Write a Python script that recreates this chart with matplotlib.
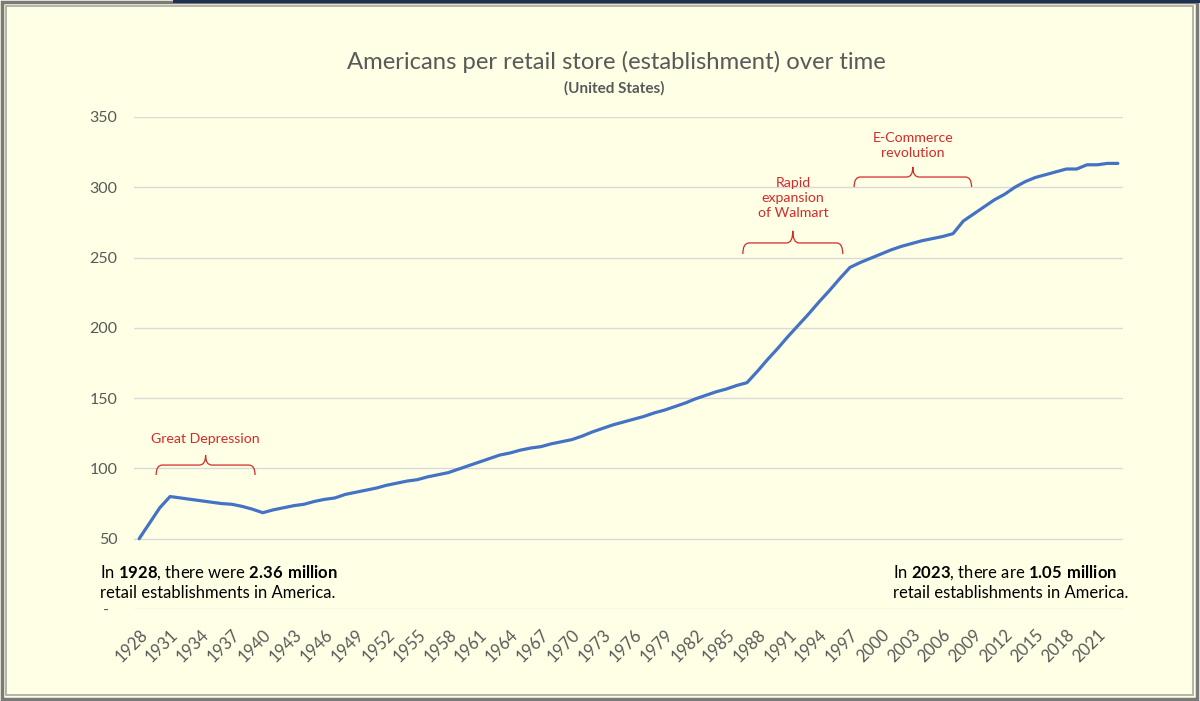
import matplotlib
matplotlib.use("Agg")
import matplotlib.pyplot as plt
from matplotlib.path import Path
from matplotlib.patches import PathPatch, Rectangle
import numpy as np

plt.rcParams['font.family'] = ['Lato', 'DejaVu Sans']
plt.rcParams['mathtext.fontset'] = 'custom'
plt.rcParams['mathtext.rm'] = 'Lato'
plt.rcParams['mathtext.bf'] = 'Lato:bold'

# data
years = list(range(1928, 2024))
people_per_store = [
    50, 61, 72, 80, 79, 78, 77, 76, 75, 74.5,          # 1928-1937
    73, 71, 68.5, 70.5, 72, 73.5, 74.5, 76.5, 78, 79,  # 1938-1947
    81.5, 83, 84.5, 86, 88, 89.5, 91, 92, 94, 95.5,    # 1948-1957
    97, 99.5, 102, 104.5, 107, 109.5, 111, 113, 114.5, 115.5,  # 1958-1967
    117.5, 119, 120.5, 123, 126, 128.5, 131, 133, 135, 137,    # 1968-1977
    139.5, 141.5, 144, 146.5, 149.5, 152, 154.5, 156.5, 159, 161,  # 1978-1987
    169, 177.5, 185.5, 194, 202, 210, 218.5, 226.5, 235, 243,  # 1988-1997
    246.5, 249.5, 252.5, 255.5, 258, 260, 262, 263.5, 265, 267,  # 1998-2007
    276, 281, 286, 291, 295, 300, 304, 307, 309, 311,  # 2008-2017
    313, 313, 316, 316, 317, 317,                      # 2018-2023
]
tick_years = list(range(1928, 2022, 3))
y_ticks = [0, 50, 100, 150, 200, 250, 300, 350]
y_labels = ['-  ', '50', '100', '150', '200', '250', '300', '350']

BG = '#FFFFE6'
GRAY = '#595959'
RED = '#D42A2A'

fig = plt.figure(figsize=(12, 7.01), dpi=100, facecolor=BG)
ax = fig.add_axes([134 / 1200, 1 - 609 / 701, (1123 - 134) / 1200, (609 - 117) / 701])
ax.set_facecolor(BG)

x = np.arange(len(years))
ax.plot(x, people_per_store, color='#4472C4', lw=2.3, solid_capstyle='round', zorder=3)

ax.set_xlim(-0.5, len(years) - 0.5)
ax.set_ylim(0, 350)
ax.set_yticks(y_ticks)
ax.set_yticklabels(y_labels)
ax.set_xticks([years.index(t) for t in tick_years])
ax.set_xticklabels([str(t) for t in tick_years], rotation=45, ha='right',
                   va='top', rotation_mode='anchor')
ax.tick_params(axis='both', length=0, colors=GRAY)
ax.tick_params(axis='y', pad=12, labelsize=11.5)
ax.tick_params(axis='x', pad=13, labelsize=12)
ax.grid(axis='y', color='#D9D9D9', lw=1)
ax.set_axisbelow(True)
for s in ax.spines.values():
    s.set_visible(False)


def brace(x0, x1, yb, yh, yt, d=0.6):
    xm = (x0 + x1) / 2
    verts = [(x0, yb), (x0, yh), (x0 + d, yh),
             (xm - d, yh), (xm, yh), (xm, yt),
             (xm, yh), (xm + d, yh),
             (x1 - d, yh), (x1, yh), (x1, yb)]
    codes = [Path.MOVETO, Path.CURVE3, Path.CURVE3,
             Path.LINETO, Path.CURVE3, Path.CURVE3,
             Path.CURVE3, Path.CURVE3,
             Path.LINETO, Path.CURVE3, Path.CURVE3]
    ax.add_patch(PathPatch(Path(verts, codes), fill=False, ec=RED, lw=0.9,
                           clip_on=False, zorder=4))


brace(1.65, 11.25, 95.3, 102.4, 109.5)
ax.text(6.45, 121, 'Great Depression', color=RED, fontsize=10.2,
        ha='center', va='center')
brace(58.6, 68.3, 252.5, 260.4, 269)
ax.text(63.45, 292.5, 'Rapid\nexpansion\nof Walmart', color=RED, fontsize=10.2,
        ha='center', va='center', multialignment='center', linespacing=1.3)
brace(69.4, 80.8, 300.2, 307.3, 314.5)
ax.text(75.1, 329.7, 'E-Commerce\nrevolution', color=RED, fontsize=10.2,
        ha='center', va='center', multialignment='center', linespacing=1.3)

fig.text(616 / 1200, 1 - 62 / 701, 'Americans per retail store (establishment) over time',
         color=GRAY, fontsize=17.2, ha='center', va='center')
fig.text(614 / 1200, 1 - 88 / 701, '(United States)', color=GRAY, fontsize=11,
         fontweight='bold', ha='center', va='center')

fig.text(100 / 1200, 1 - 582 / 701,
         'In $\\mathbf{1928}$, there were $\\mathbf{2.36\\ million}$\nretail establishments in America.',
         color='black', fontsize=12, ha='left', va='center', linespacing=1.25)
fig.text(893 / 1200, 1 - 582 / 701,
         'In $\\mathbf{2023}$, there are $\\mathbf{1.05\\ million}$\nretail establishments in America.',
         color='black', fontsize=12, ha='left', va='center', linespacing=1.25)

# window-like frame
tr = fig.dpi_scale_trans
fig.patches.append(Rectangle((0.02, 0.02), 11.95, 6.97, transform=tr, fill=False,
                             ec='#7A7A7A', lw=2.5, zorder=10))
fig.patches.append(Rectangle((0.06, 0.06), 11.87, 6.89, transform=tr, fill=False,
                             ec='#A8A8A0', lw=1.2, zorder=10))
fig.patches.append(Rectangle((1.73, 6.98), 10.27, 0.03, transform=tr,
                             fc='#1F3050', ec='none', zorder=11))

fig.savefig('out.png', dpi=100, facecolor=BG)
